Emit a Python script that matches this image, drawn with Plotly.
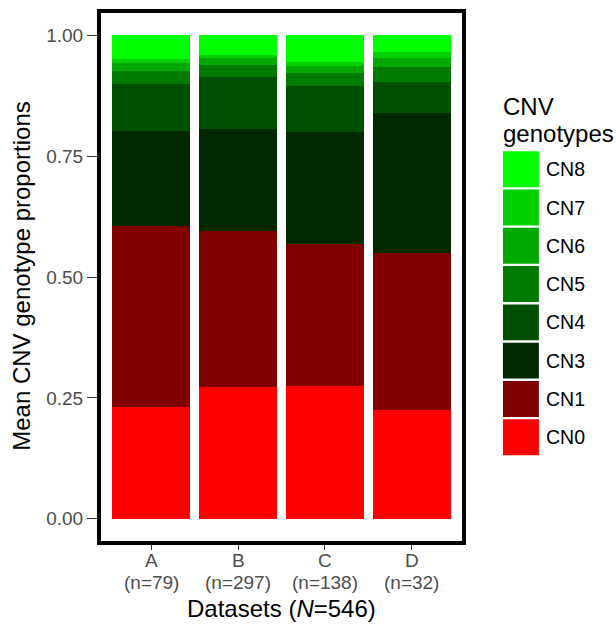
import plotly.graph_objects as go

datasets = ["A", "B", "C", "D"]
sample_sizes = [79, 297, 138, 32]
genotypes = ["CN0", "CN1", "CN3", "CN4", "CN5", "CN6", "CN7", "CN8"]
colors = ["#FF0000", "#800000", "#002900", "#004F00", "#007A00", "#00A800", "#00D000", "#00FF00"]

CN0 = [0.231, 0.273, 0.275, 0.225]
CN1 = [0.374, 0.322, 0.293, 0.325]
CN3 = [0.197, 0.211, 0.232, 0.289]
CN4 = [0.097, 0.107, 0.095, 0.064]
CN5 = [0.027, 0.025, 0.026, 0.031]
CN6 = [0.016, 0.014, 0.015, 0.018]
CN7 = [0.008, 0.007, 0.008, 0.013]
CN8 = [0.050, 0.041, 0.056, 0.035]
series = [CN0, CN1, CN3, CN4, CN5, CN6, CN7, CN8]

y_ticks = [0, 0.25, 0.5, 0.75, 1.0]
y_ticktext = ["0.00", "0.25", "0.50", "0.75", "1.00"]
n_labels = [f"(n={n})" for n in sample_sizes]

FONT = "Liberation Sans, Arial, sans-serif"
W, H = 616, 625
PX0, PX1, PY0, PY1 = 98.5, 464, 10.6, 543  # plot area in pixels


def px(x):
    return (x - PX0) / (PX1 - PX0)


def py(y):
    return (PY1 - y) / (PY1 - PY0)


fig = go.Figure()
for name, vals, col in zip(genotypes, series, colors):
    fig.add_trace(go.Bar(x=datasets, y=vals, name=name, marker=dict(color=col, line=dict(width=0)),
                         showlegend=False))

fig.update_layout(
    barmode="stack", bargap=0.1,
    width=W, height=H,
    margin=dict(l=PX0, r=W - PX1, t=PY0, b=H - PY1, pad=0),
    plot_bgcolor="white", paper_bgcolor="white",
    font=dict(family=FONT, size=19, color="black"),
)
fig.update_xaxes(range=[-0.6, 3.6], tickvals=datasets, showticklabels=False,
                 ticks="outside", ticklen=6, tickwidth=1.2, tickcolor="#333333",
                 showgrid=False, zeroline=False, showline=False)
fig.update_yaxes(range=[-0.05, 1.05], tickvals=y_ticks, ticktext=y_ticktext,
                 ticks="outside", ticklen=11, tickwidth=1.2, tickcolor="#333333",
                 tickfont=dict(size=19, color="#4D4D4D", family=FONT),
                 showgrid=False, zeroline=False, showline=False)

# x tick labels (two lines, ggplot spacing)
for d, nl in zip(datasets, n_labels):
    fig.add_annotation(text=d, x=d, xref="x", yref="paper", y=py(561), xanchor="center",
                       yanchor="middle", showarrow=False,
                       font=dict(size=19, color="#4D4D4D", family=FONT))
    fig.add_annotation(text=nl, x=d, xref="x", yref="paper", y=py(583), xanchor="center",
                       yanchor="middle", showarrow=False,
                       font=dict(size=19, color="#4D4D4D", family=FONT))

# panel border
fig.add_shape(type="rect", xref="paper", yref="paper", x0=0, x1=1, y0=0, y1=1,
              line=dict(color="black", width=4), fillcolor="rgba(0,0,0,0)", layer="above")

# axis titles
fig.add_annotation(text="Datasets (<i>N</i>=546)", xref="paper", yref="paper",
                   x=px(281), y=py(609), xanchor="center", yanchor="middle", showarrow=False,
                   font=dict(size=24, color="black", family=FONT))
fig.add_annotation(text="Mean CNV genotype proportions", xref="paper", yref="paper",
                   x=px(21), y=py(276), xanchor="center", yanchor="middle", showarrow=False,
                   textangle=-90, font=dict(size=24, color="black", family=FONT))

# legend (manual, ggplot-style keys)
fig.add_annotation(text="CNV", xref="paper", yref="paper", x=px(501), y=py(106),
                   xanchor="left", yanchor="middle", showarrow=False,
                   font=dict(size=24, color="black", family=FONT))
fig.add_annotation(text="genotypes", xref="paper", yref="paper", x=px(501), y=py(133),
                   xanchor="left", yanchor="middle", showarrow=False,
                   font=dict(size=24, color="black", family=FONT))
pitch, key = 38.3, 36
for i, (name, col) in enumerate(zip(genotypes[::-1], colors[::-1])):
    top = 151 + i * pitch
    fig.add_shape(type="rect", xref="paper", yref="paper",
                  x0=px(503), x1=px(539), y0=py(top + key), y1=py(top),
                  line=dict(width=0), fillcolor=col)
    fig.add_annotation(text=name, xref="paper", yref="paper", x=px(544), y=py(top + key / 2),
                       xanchor="left", yanchor="middle", showarrow=False,
                       font=dict(size=19.5, color="black", family=FONT))

fig.write_html("out.html", config={"displayModeBar": False},
               post_script="document.body.style.margin='0px';")
